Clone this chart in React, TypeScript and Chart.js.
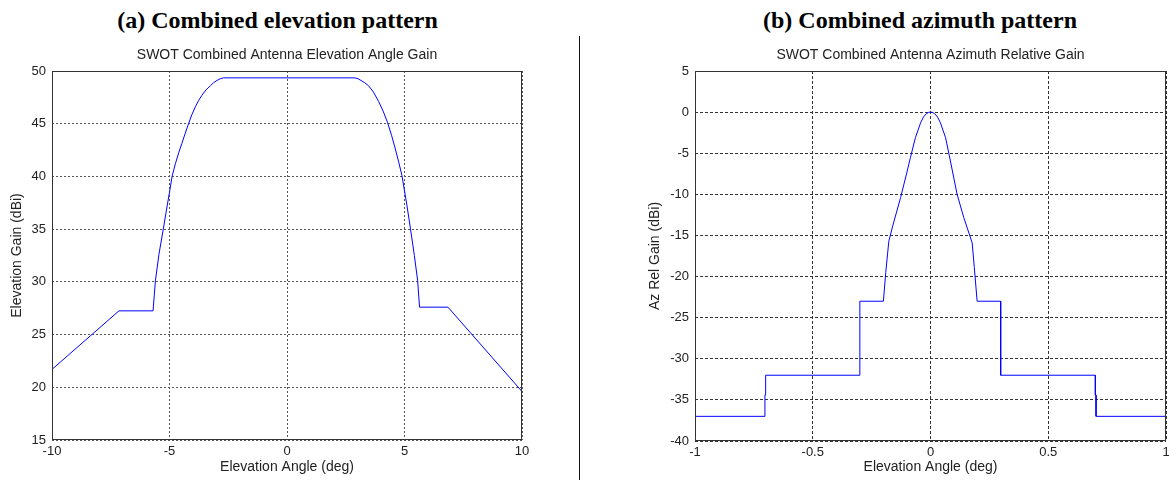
import React, { useEffect, useRef } from "react";
import { Chart, registerables } from "chart.js";

Chart.register(...registerables);

// ---------- Data ----------
const elevAngle = [
  -10, -7.15, -5.7, -5.6, -5.45, -5.25, -5.1, -5.0, -4.89, -4.75, -4.6, -4.47, -4.33, -4.19, -4.05, -3.9, -3.76, -3.62, -3.45, -3.26, -3.12, -2.98, -2.84, -2.7,
  2.88, 3.02, 3.15, 3.3, 3.47, 3.68, 3.9, 4.09, 4.28, 4.45, 4.61, 4.76, 4.89, 5.1, 5.25, 5.42, 5.56, 5.64, 6.85, 10,
];
const elevGain = [
  21.7, 27.25, 27.25, 30.1, 32.6, 35.2, 37.2, 38.5, 40.0, 41.2, 42.3, 43.15, 44.1, 45.0, 45.85, 46.6, 47.2, 47.7, 48.2, 48.6, 48.9, 49.1, 49.27, 49.35,
  49.35, 49.27, 49.1, 48.9, 48.6, 48.0, 47.1, 46.2, 45.1, 43.9, 42.6, 41.3, 40.1, 37.3, 35.1, 32.5, 30.1, 27.6, 27.6, 19.6,
];

const azAngle = [
  -1, -0.703, -0.703, -0.7, -0.7, -0.3, -0.3, -0.2, -0.19, -0.177, -0.16, -0.127, -0.1, -0.085, -0.064, -0.042, -0.03, -0.018, -0.008, 0,
  0.008, 0.018, 0.03, 0.042, 0.064, 0.08, 0.113, 0.141, 0.177, 0.186, 0.198, 0.298, 0.298, 0.7, 0.7, 0.703, 0.703, 1,
];
const azGain = [
  -37, -37, -34.4, -34.4, -32, -32, -23, -23, -19.5, -15.7, -13.8, -10.4, -7.3, -5.5, -3.1, -1.3, -0.6, -0.2, -0.03, 0,
  -0.03, -0.2, -0.6, -1.3, -3.1, -5.3, -10, -12.8, -15.9, -18.9, -23, -23, -32, -32, -34.4, -34.4, -37, -37,
];

const elevXTicks = [-10, -5, 0, 5, 10];
const elevYTicks = [15, 20, 25, 30, 35, 40, 45, 50];
const azXTicks = [-1, -0.5, 0, 0.5, 1];
const azYTicks = [-40, -35, -30, -25, -20, -15, -10, -5, 0, 5];

const SANS = "Arial, 'Liberation Sans', sans-serif";
const SERIF = "'Times New Roman', 'Liberation Serif', serif";

const boxPlugin = {
  id: "axesBox",
  afterDatasetsDraw(chart: any) {
    const { ctx, chartArea: a } = chart;
    ctx.save();
    ctx.strokeStyle = "#333";
    ctx.lineWidth = 1;
    const l = Math.round(a.left) + 0.5;
    const t = Math.round(a.top) + 0.5;
    const r = Math.round(a.right) - 0.5;
    const b = Math.round(a.bottom) - 0.5;
    ctx.strokeRect(l, t, r - l, b - t);
    ctx.restore();
  },
};

type Cfg = {
  xs: number[];
  ys: number[];
  xTicks: number[];
  yTicks: number[];
  title: string;
  xTitle: string;
  yTitle: string;
  yAxisWidth: number;
  xAxisHeight: number;
  padRight: number;
  yTitlePad: number;
  dash: number[];
  gridColor: string;
};

function PlotCanvas({ cfg, style }: { cfg: Cfg; style: React.CSSProperties }) {
  const ref = useRef<HTMLCanvasElement | null>(null);
  useEffect(() => {
    if (!ref.current) return;
    const grid = {
      color: cfg.gridColor,
      lineWidth: 1,
      drawTicks: false,
    };
    const chart = new Chart(ref.current, {
      type: "line",
      data: {
        datasets: [
          {
            data: cfg.xs.map((x, i) => ({ x, y: cfg.ys[i] })),
            borderColor: "#0000ff",
            borderWidth: 1,
            pointRadius: 0,
            tension: 0,
            fill: false,
          },
        ],
      },
      options: {
        animation: false,
        responsive: true,
        maintainAspectRatio: false,
        layout: { padding: { left: 0, right: cfg.padRight, top: 0, bottom: 0 } },
        plugins: {
          legend: { display: false },
          tooltip: { enabled: false },
          title: {
            display: true,
            fullSize: false,
            text: cfg.title,
            color: "#222",
            font: { family: SANS, size: 14, weight: "normal" },
            padding: { top: 6.6, bottom: 7.6 },
          },
        },
        scales: {
          x: {
            type: "linear",
            min: cfg.xTicks[0],
            max: cfg.xTicks[cfg.xTicks.length - 1],
            afterBuildTicks: (s: any) => {
              s.ticks = cfg.xTicks.map((v) => ({ value: v }));
            },
            afterFit: (s: any) => {
              s.height = cfg.xAxisHeight;
              s.paddingLeft = 0;
              s.paddingRight = 0;
            },
            grid: { ...grid },
            border: { display: false, dash: cfg.dash },
            ticks: {
              color: "#222",
              font: { family: SANS, size: 13 },
              padding: 4,
              maxRotation: 0,
              autoSkip: false,
              callback: (v: any) => String(v),
            },
            title: {
              display: true,
              text: cfg.xTitle,
              color: "#222",
              font: { family: SANS, size: 14 },
              padding: { top: 0, bottom: 5.6 },
            },
          },
          y: {
            type: "linear",
            min: cfg.yTicks[0],
            max: cfg.yTicks[cfg.yTicks.length - 1],
            afterBuildTicks: (s: any) => {
              s.ticks = cfg.yTicks.map((v) => ({ value: v }));
            },
            afterFit: (s: any) => {
              s.width = cfg.yAxisWidth;
              s.paddingTop = 0;
              s.paddingBottom = 0;
            },
            grid: { ...grid },
            border: { display: false, dash: cfg.dash },
            ticks: {
              color: "#222",
              font: { family: SANS, size: 13 },
              padding: 6,
              autoSkip: false,
              callback: (v: any) => String(v),
            },
            title: {
              display: true,
              text: cfg.yTitle,
              color: "#222",
              font: { family: SANS, size: 14 },
              padding: { top: cfg.yTitlePad, bottom: 0 },
            },
          },
        },
      },
      plugins: [boxPlugin],
    } as any);
    return () => chart.destroy();
  }, [cfg]);
  return (
    <div style={{ position: "absolute", ...style }}>
      <canvas ref={ref} />
    </div>
  );
}

const elevCfg: Cfg = {
  xs: elevAngle,
  ys: elevGain,
  xTicks: elevXTicks,
  yTicks: elevYTicks,
  title: "SWOT Combined Antenna Elevation Angle Gain",
  xTitle: "Elevation Angle (deg)",
  yTitle: "Elevation Gain (dBi)",
  yAxisWidth: 52,
  xAxisHeight: 41,
  padRight: 53,
  yTitlePad: 8.6,
  dash: [2, 2],
  gridColor: "#555",
};

const azCfg: Cfg = {
  xs: azAngle,
  ys: azGain,
  xTicks: azXTicks,
  yTicks: azYTicks,
  title: "SWOT Combined Antenna Azimuth Relative Gain",
  xTitle: "Elevation Angle (deg)",
  yTitle: "Az Rel Gain (dBi)",
  yAxisWidth: 105,
  xAxisHeight: 40,
  padRight: 3,
  yTitlePad: 56.6,
  dash: [3, 2],
  gridColor: "#333",
};

export default function App() {
  const heading: React.CSSProperties = {
    position: "absolute",
    top: 4,
    height: 32,
    lineHeight: "32px",
    fontFamily: SERIF,
    fontWeight: "bold",
    fontSize: 24,
    color: "#000",
    textAlign: "center",
    whiteSpace: "nowrap",
  };
  return (
    <div
      style={{
        position: "fixed",
        left: 0,
        top: 0,
        width: 1169,
        height: 481,
        background: "#fff",
        overflow: "hidden",
      }}
    >
      <div style={{ ...heading, left: 0, width: 555 }}>(a) Combined elevation pattern</div>
      <div style={{ ...heading, left: 670, width: 500 }}>(b) Combined azimuth pattern</div>
      <div style={{ position: "absolute", left: 579, top: 36, width: 1, height: 444, background: "#111" }} />
      <PlotCanvas cfg={elevCfg} style={{ left: 0, top: 40, width: 575, height: 441 }} />
      <PlotCanvas cfg={azCfg} style={{ left: 590, top: 40, width: 579, height: 441 }} />
    </div>
  );
}
